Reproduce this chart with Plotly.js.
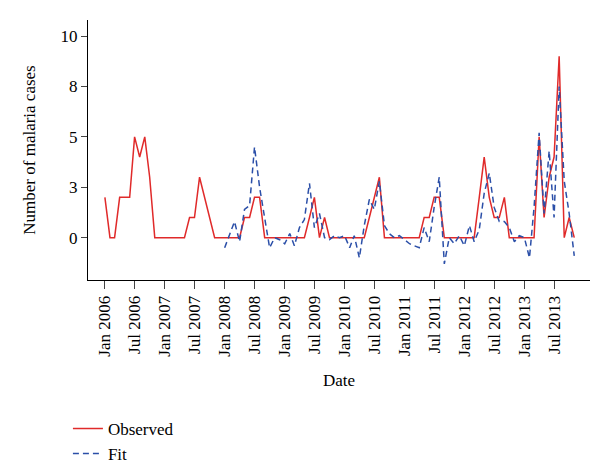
<!DOCTYPE html><html><head><script src="https://cdn.plot.ly/plotly-3.0.1.min.js"></script>
<style>body{margin:0}</style></head><body><div id="c" style="width:600px;height:467px"></div><script>
const observed=[2,0,0,2,2,2,5,4,5,3,0,0,0,0,0,0,0,1,1,3,2,1,0,0,0,0,0,0,1,1,2,2,0,0,0,0,0,0,0,0,0,1,2,0,1,0,0,0,0,0,0,0,0,1,2,3,0,0,0,0,0,0,0,0,1,1,2,2,0,0,0,0,0,0,0,2,4,2,1,1,2,0,0,0,0,0,0,5,1,3,4,9,0,1,0];
const fitStart=24;
const fit=[-0.5,0.2,0.8,-0.2,1.4,1.6,4.5,2.5,1.0,-0.5,0,-0.1,-0.3,0.2,-0.4,0.5,0.9,2.7,0.5,1.2,0,-0.1,0.1,0.0,0.1,-0.5,0.1,-1.0,0.6,1.9,1.4,2.8,0.6,0.2,0,0.1,-0.1,-0.3,-0.4,-0.5,0.5,-0.2,1.5,3.0,-1.3,0,-0.3,0.1,-0.4,0.6,-0.2,0.4,2.2,3.2,1.5,0.8,0.8,0.5,-0.2,0.1,0,-1.0,1.5,5.2,1.2,4.3,1.0,7.5,2.8,1.2,-0.9];
const yTickVals=[0,2.5,5,7.5,10], yTickText=["0","3","5","8","10"];
function md(i){const y=2006+Math.floor(i/12),m=i%12+1;return y+"-"+String(m).padStart(2,"0")+"-01";}
const xo=observed.map((_,i)=>md(i)), xf=fit.map((_,i)=>md(i+fitStart));
const tv=[];for(let i=0;i<=90;i+=6)tv.push(md(i));
const F="Liberation Serif";
Plotly.newPlot("c",[
{x:xo,y:observed,name:"Observed",mode:"lines",line:{color:"#e02a2a",width:1.5}},
{x:xf,y:fit,name:"Fit",mode:"lines",line:{color:"#2b4fa8",width:1.5,dash:"6px,4px"}}
],{width:600,height:467,margin:{l:88,r:10,t:20,b:187},paper_bgcolor:"#fff",plot_bgcolor:"#fff",
font:{family:F,size:16,color:"#000"},showlegend:true,
legend:{x:-0.04,yref:"container",y:0.12,xanchor:"left",yanchor:"top",font:{size:17},tracegroupgap:6},
xaxis:{type:"date",range:["2005-09-20","2014-02-05"],tickvals:tv,tickformat:"%b %Y",tickangle:-90,tickfont:{size:17},showgrid:false,zeroline:false,showline:true,linecolor:"#000",ticks:"outside",ticklen:8,automargin:false,title:{text:"Date",font:{size:17},standoff:18}},
yaxis:{range:[-2.1,10.8],tickvals:yTickVals,ticktext:yTickText,tickfont:{size:17},showgrid:false,zeroline:false,showline:true,linecolor:"#000",ticks:"outside",ticklen:6,automargin:false,title:{text:"Number of malaria cases",font:{size:17},standoff:20}}
},{displayModeBar:false});
</script></body></html>
